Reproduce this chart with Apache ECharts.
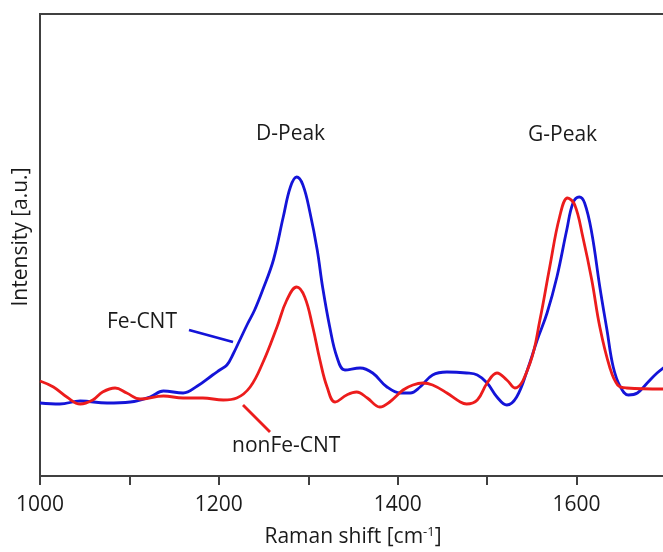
<!DOCTYPE html>
<html>
<head>
<meta charset="utf-8">
<script src="https://cdn.jsdelivr.net/npm/echarts@6/dist/echarts.min.js"></script>
<style>
  html, body { margin: 0; padding: 0; background: #fff; }
  #chart { width: 663px; height: 552px; }
</style>
</head>
<body>
<div id="chart"></div>
<script>
// Raman shift (cm-1) and intensity (a.u.)
var feShift = [1000, 1022, 1045, 1075, 1101, 1123, 1138, 1160, 1176, 1193, 1201, 1209, 1216, 1224, 1232, 1240, 1249, 1261, 1272, 1280, 1287, 1294, 1302, 1310, 1316, 1324, 1332, 1341, 1358, 1372, 1388, 1403, 1414, 1425, 1439, 1455, 1477, 1489, 1500, 1511, 1522, 1533, 1545, 1556, 1567, 1578, 1589, 1596, 1603, 1609, 1617, 1626, 1634, 1641, 1649, 1658, 1668, 1679, 1690, 1700];
var feInt = [73, 72, 75, 73, 74, 79, 85, 83, 90, 101, 106, 111, 122, 137, 152, 166, 186, 216, 259, 289, 299, 291, 263, 226, 189, 149, 119, 106, 108, 103, 89, 83, 83, 89, 101, 104, 103, 101, 93, 79, 71, 79, 106, 136, 163, 199, 246, 273, 279, 273, 243, 189, 146, 109, 89, 81, 83, 93, 103, 110];

var nonShift = [1000, 1015, 1030, 1045, 1059, 1070, 1084, 1097, 1112, 1138, 1160, 1182, 1205, 1220, 1235, 1249, 1265, 1276, 1287, 1296, 1305, 1313, 1321, 1330, 1343, 1354, 1366, 1380, 1391, 1406, 1417, 1428, 1439, 1455, 1470, 1477, 1489, 1500, 1511, 1522, 1531, 1548, 1559, 1570, 1581, 1590, 1598, 1607, 1617, 1626, 1637, 1646, 1656, 1700];
var nonInt = [95, 89, 79, 72, 76, 84, 88, 83, 77, 80, 78, 78, 76, 78, 89, 113, 149, 176, 189, 179, 149, 116, 89, 74, 81, 84, 78, 69, 74, 86, 91, 93, 91, 83, 74, 72, 76, 93, 103, 96, 88, 113, 156, 209, 259, 278, 271, 239, 196, 149, 109, 91, 88, 87];

var xTicks = [1000, 1200, 1400, 1600];

function pairs(xs, ys) {
  var out = [];
  for (var i = 0; i < xs.length; i++) out.push([xs[i], ys[i]]);
  return out;
}

var font = '"Open Sans", sans-serif';
var chart = echarts.init(document.getElementById('chart'));
chart.setOption({
  animation: false,
  grid: {
    left: 40, right: -3, top: 14, bottom: 76,
    outerBoundsMode: 'none',
    containLabel: false,
    show: true, borderColor: '#404040', borderWidth: 2
  },
  xAxis: {
    type: 'value',
    min: 1000, max: 1700, interval: 100,
    axisLine: { lineStyle: { color: '#404040', width: 2 } },
    axisTick: { length: 9, lineStyle: { color: '#404040', width: 2 } },
    splitLine: { show: false },
    axisLabel: {
      margin: 19, color: '#1a1a1a', fontSize: 21, fontFamily: font,
      formatter: function (v) { return xTicks.indexOf(v) >= 0 ? String(v) : ''; }
    },
    name: '{n|Raman shift [cm}{s|-1}{n|]}',
    nameLocation: 'middle',
    nameGap: 50,
    nameTextStyle: {
      rich: {
        n: { fontSize: 21, fontFamily: font, color: '#1a1a1a' },
        s: { fontSize: 13, fontFamily: font, color: '#1a1a1a', verticalAlign: 'top', padding: [0, 0, 10, 0] }
      }
    }
  },
  yAxis: {
    type: 'value',
    min: 0, max: 462,
    axisLine: { show: true, lineStyle: { color: '#404040', width: 2 } },
    axisTick: { show: false },
    axisLabel: { show: false },
    splitLine: { show: false },
    name: 'Intensity [a.u.]',
    nameLocation: 'middle',
    nameGap: 8,
    nameTextStyle: { fontSize: 21, fontFamily: font, color: '#1a1a1a', padding: [0, 0, 0, 16] }
  },
  series: [
    {
      name: 'Fe-CNT', type: 'line', data: pairs(feShift, feInt),
      smooth: 0.4, showSymbol: false,
      lineStyle: { color: '#1414d8', width: 2.8 }
    },
    {
      name: 'nonFe-CNT', type: 'line', data: pairs(nonShift, nonInt),
      smooth: 0.4, showSymbol: false,
      lineStyle: { color: '#ec1c1c', width: 2.8 }
    }
  ],
  graphic: [
    { type: 'text', left: 256, top: 124, style: { text: 'D-Peak', font: '21px ' + font, fill: '#1a1a1a' } },
    { type: 'text', left: 528, top: 125, style: { text: 'G-Peak', font: '21px ' + font, fill: '#1a1a1a' } },
    { type: 'text', left: 107, top: 312, style: { text: 'Fe-CNT', font: '21px ' + font, fill: '#1a1a1a' } },
    { type: 'text', left: 232, top: 436, style: { text: 'nonFe-CNT', font: '21px ' + font, fill: '#1a1a1a' } },
    { type: 'line', shape: { x1: 189, y1: 330, x2: 233, y2: 342 }, style: { stroke: '#1414d8', lineWidth: 2.8 } },
    { type: 'line', shape: { x1: 243, y1: 405, x2: 270, y2: 432 }, style: { stroke: '#ec1c1c', lineWidth: 2.8 } }
  ]
});
</script>
</body>
</html>
